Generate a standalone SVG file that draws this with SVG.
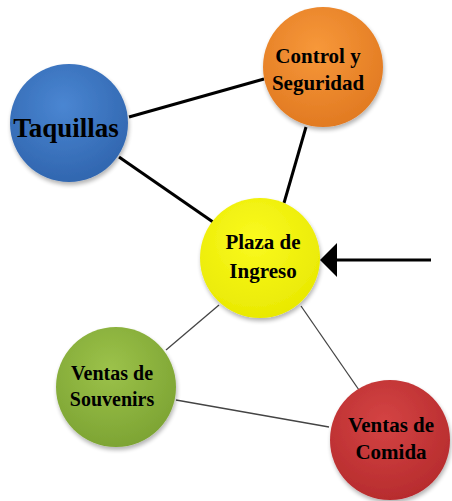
<svg xmlns="http://www.w3.org/2000/svg" width="452" height="501" viewBox="0 0 452 501">
<style>
.lbl{font-family:"Liberation Serif","DejaVu Serif",serif;font-weight:bold;fill:#000;text-anchor:middle}
.thick{stroke:#000;stroke-width:3;fill:none}
.thin{stroke:#444;stroke-width:1.3;fill:none}
</style>
<defs>
<radialGradient id="gBlue" cx="0.45" cy="0.35" r="0.7"><stop offset="0" stop-color="#4a86d2"/><stop offset="1" stop-color="#2f64ad"/></radialGradient>
<radialGradient id="gOrange" cx="0.45" cy="0.35" r="0.7"><stop offset="0" stop-color="#f7983a"/><stop offset="1" stop-color="#e07820"/></radialGradient>
<radialGradient id="gYellow" cx="0.45" cy="0.35" r="0.7"><stop offset="0" stop-color="#fafa20"/><stop offset="1" stop-color="#e8e800"/></radialGradient>
<radialGradient id="gGreen" cx="0.45" cy="0.35" r="0.7"><stop offset="0" stop-color="#9cc24a"/><stop offset="1" stop-color="#7ba232"/></radialGradient>
<radialGradient id="gRed" cx="0.45" cy="0.35" r="0.7"><stop offset="0" stop-color="#d44444"/><stop offset="1" stop-color="#b52a2c"/></radialGradient>
<filter id="sh" x="-20%" y="-20%" width="140%" height="140%"><feGaussianBlur in="SourceAlpha" stdDeviation="2"/><feOffset dx="1" dy="3"/><feComponentTransfer><feFuncA type="linear" slope="0.3"/></feComponentTransfer><feMerge><feMergeNode/><feMergeNode in="SourceGraphic"/></feMerge></filter>
</defs>
<g id="connectors">
<line class="thick" x1="129" y1="117" x2="264" y2="79"/>
<line class="thick" x1="119" y1="157" x2="213" y2="222"/>
<line class="thick" x1="306" y1="127" x2="284" y2="203"/>
<line class="thin" x1="219" y1="305" x2="166" y2="350"/>
<line class="thin" x1="301" y1="306" x2="359" y2="390"/>
<line class="thin" x1="176" y1="400" x2="329" y2="427"/>
<line class="thick" x1="431" y1="260" x2="334" y2="260"/>
<polygon points="320,260 337,243 337,277" fill="#000"/>
</g>
<g id="taquillas">
<circle cx="69" cy="123" r="59" fill="url(#gBlue)" filter="url(#sh)"/>
<text class="lbl" x="66" y="137" font-size="27">Taquillas</text>
</g>
<g id="control">
<circle cx="323" cy="67" r="60" fill="url(#gOrange)" filter="url(#sh)"/>
<text class="lbl" x="318" y="63" font-size="21">Control y</text>
<text class="lbl" x="318" y="90" font-size="21">Seguridad</text>
</g>
<g id="plaza">
<circle cx="260" cy="258" r="60" fill="url(#gYellow)" filter="url(#sh)"/>
<text class="lbl" x="263" y="249" font-size="21">Plaza de</text>
<text class="lbl" x="263" y="278" font-size="21">Ingreso</text>
</g>
<g id="souvenirs">
<circle cx="116" cy="387" r="60" fill="url(#gGreen)" filter="url(#sh)"/>
<text class="lbl" x="112" y="380" font-size="20">Ventas de</text>
<text class="lbl" x="112" y="406" font-size="20">Souvenirs</text>
</g>
<g id="comida">
<circle cx="390" cy="440" r="60" fill="url(#gRed)" filter="url(#sh)"/>
<text class="lbl" x="391" y="432" font-size="21">Ventas de</text>
<text class="lbl" x="391" y="459" font-size="21">Comida</text>
</g>
</svg>
